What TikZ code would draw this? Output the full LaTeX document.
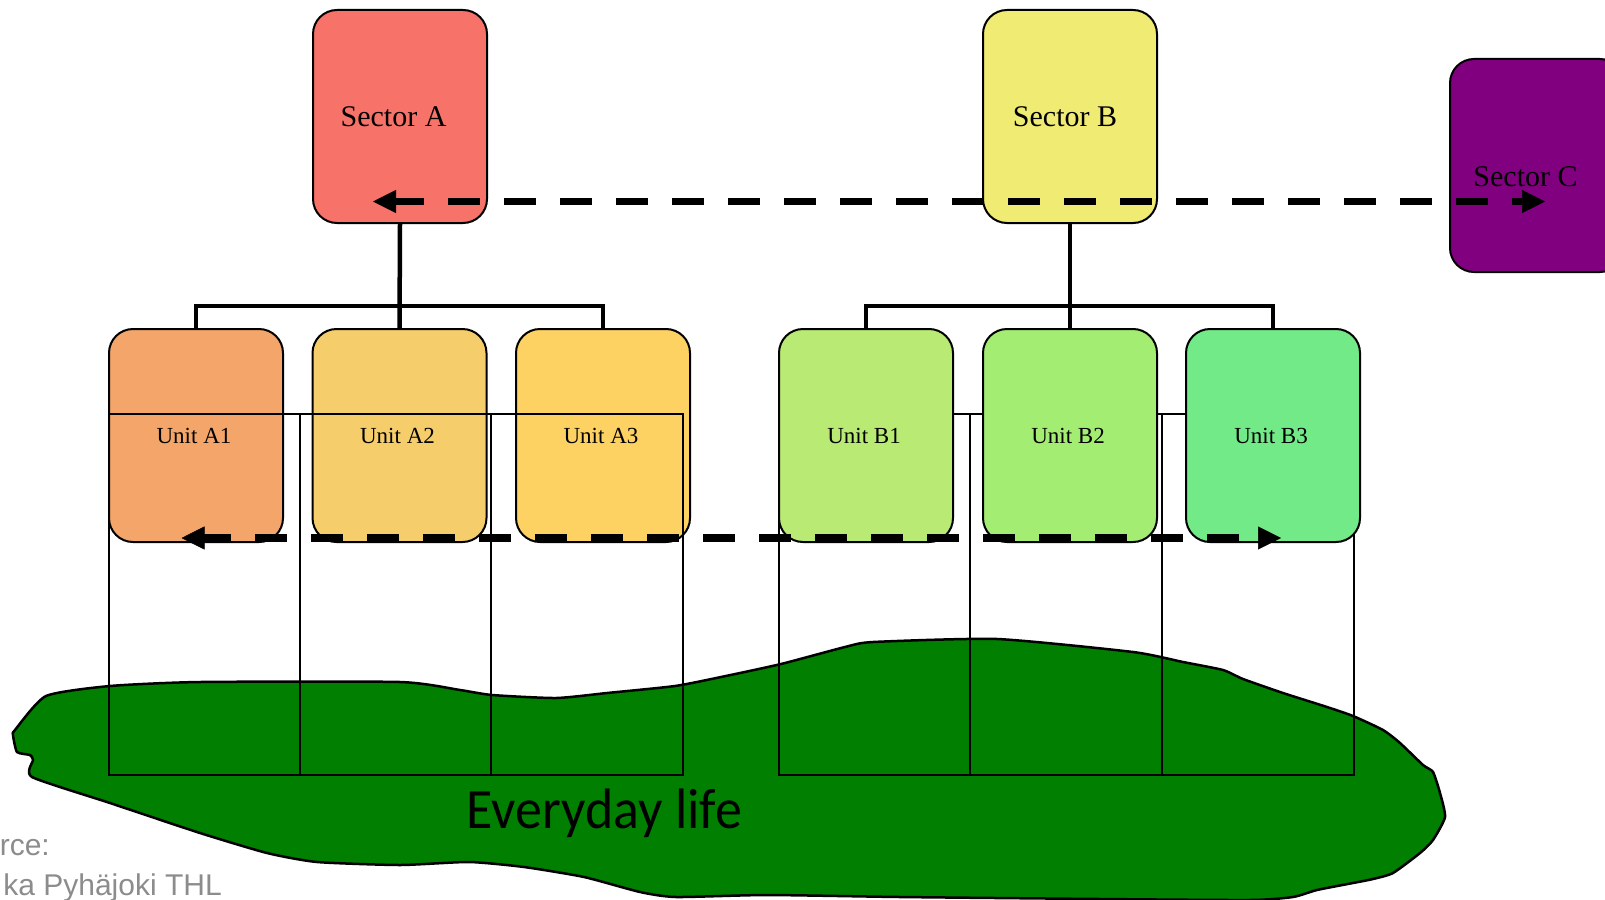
\documentclass[tikz,border=0pt]{standalone}
\usepackage{fontspec}
\usepackage{graphicx}
\setmainfont{Liberation Serif}
\newfontfamily\lifefont{Carlito}
\newfontfamily\srcfont{Liberation Sans}
\usetikzlibrary{arrows.meta}
\definecolor{secA}{RGB}{247,115,106}
\definecolor{secB}{RGB}{240,236,115}
\definecolor{secC}{RGB}{128,0,128}
\definecolor{uA1}{RGB}{244,166,106}
\definecolor{uA2}{RGB}{245,205,106}
\definecolor{uA3}{RGB}{253,210,99}
\definecolor{uB1}{RGB}{184,234,116}
\definecolor{uB2}{RGB}{163,238,114}
\definecolor{uB3}{RGB}{114,234,136}
\definecolor{blobgreen}{RGB}{0,127,0}
\definecolor{srcgray}{RGB}{140,140,140}
\begin{document}
\begin{tikzpicture}[x=1pt,y=-1pt,
  box/.style={draw=black, line width=2pt, rounded corners=24pt, minimum width=174pt,
    minimum height=213pt, inner sep=0pt, anchor=north west},
  sectortext/.style={font=\fontsize{30}{36}\selectfont},
  unittext/.style={font=\fontsize{23}{28}\selectfont},
  tree/.style={line width=4.5pt},
  thinbox/.style={line width=2.5pt},
  dasharrow/.style={line width=7.5pt, dash pattern=on 32pt off 24pt, {Triangle[length=23pt,width=23pt,line width=0.5pt]}-{Triangle[length=23pt,width=23pt,line width=0.5pt]}}
]
\useasboundingbox (0,0) rectangle (1605,899);

% Everyday life area
\filldraw[fill=blobgreen, draw=black, line width=2.5pt]
  plot[smooth cycle, tension=0.35] coordinates {
  (46,696) (110,686) (200,682) (400,682) (460,690) (492,695) (556,698) (607,693)
  (675,686) (721,677) (781,664) (845,647) (873,642) (997,639) (1133,652) (1183,662)
  (1223,670) (1243,679) (1283,693) (1327,707) (1353,716) (1383,730) (1400,743)
  (1423,765) (1433,772) (1440,793) (1445,817) (1433,840) (1420,853) (1393,873)
  (1373,879) (1353,883) (1317,890) (1293,897) (1250,900) (1100,899) (900,897)
  (767,895) (676,897) (640,892) (584,877) (524,867) (469,862) (400,865) (317,862)
  (267,853) (200,833) (110,803) (32,777) (33,760) (30,755) (17,752) (13,735) (15,730)};

% group B thin rectangles (behind the unit boxes)
\draw[thinbox] (779,414) rectangle (970,775);
\draw[thinbox] (970,414) rectangle (1162,775);
\draw[thinbox] (1162,414) rectangle (1354,775);

% unit boxes
\node[box, unittext, fill=uA1] (a1) at (108,328) {Unit A1\hspace*{4pt}};
\node[box, unittext, fill=uA2] (a2) at (311.5,328) {Unit A2\hspace*{4pt}};
\node[box, unittext, fill=uA3] (a3) at (515,328) {Unit A3\hspace*{4pt}};
\node[box, unittext, fill=uB1] (b1) at (778,328) {Unit B1\hspace*{4pt}};
\node[box, unittext, fill=uB2] (b2) at (982,328) {Unit B2\hspace*{4pt}};
\node[box, unittext, fill=uB3] (b3) at (1185,328) {Unit B3\hspace*{4pt}};

% group A thin rectangles (in front of the unit boxes)
\draw[thinbox] (109,414) rectangle (300,775);
\draw[thinbox] (300,414) rectangle (491,775);
\draw[thinbox] (491,414) rectangle (683,775);

% sector boxes
\node[box, sectortext, fill=secA] (sa) at (312,9) {Sector A\hspace*{13pt}};
\node[box, sectortext, fill=secB] (sb) at (982,9) {Sector B\hspace*{10pt}};
\node[box, fill=secC, label={[sectortext, xshift=-11.5pt, yshift=-11pt]center:Sector C}] (sc) at (1449,58) {};

% tree connectors
\coordinate (ja) at (399,306);
\coordinate (jb) at (1069,306);
\draw[tree] (sa.south) -- (a2.north);
\draw[tree] (a1.north) |- (ja) -| (a3.north);
\draw[tree] (sb.south) -- (b2.north);
\draw[tree] (b1.north) |- (jb) -| (b3.north);

% dashed double arrows
\coordinate (tl) at (373,201.5);
\coordinate (tr) at (1545,201.5);
\coordinate (bl) at (181.5,538);
\coordinate (br) at (1281,538);
\draw[dasharrow, dash phase=4pt] (tl) -- (tr);
\draw[dasharrow, dash phase=5pt] (bl) -- (br);

% texts
\node[anchor=base west, inner sep=0pt, font=\lifefont\fontsize{57}{60}\selectfont] (life)
  at (466.6,828) {\resizebox{275pt}{\height}{Everyday life}};
\node[anchor=base east, inner sep=0pt, text=srcgray, font=\srcfont\fontsize{30}{36}\selectfont] (src1)
  at (50,855) {rce:};
\node[anchor=base east, inner sep=0pt, text=srcgray, font=\srcfont\fontsize{30}{36}\selectfont] (src2)
  at (222,895) {ka Pyhäjoki THL};
\end{tikzpicture}
\end{document}
